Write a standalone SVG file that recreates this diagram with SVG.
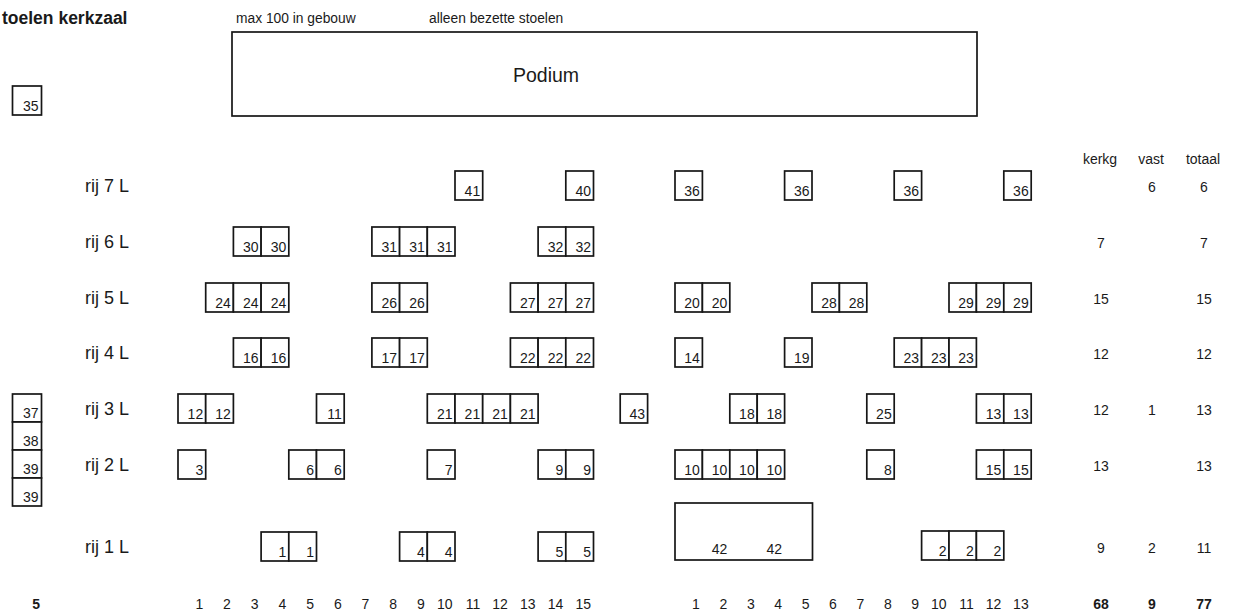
<svg xmlns="http://www.w3.org/2000/svg" width="1235" height="614" viewBox="0 0 1235 614">
<style>
text{font-family:"Liberation Sans",Arial,sans-serif;fill:#1a1a1a}
.c{fill:#fff;stroke:#161616;stroke-width:1.7}
.n{font-size:14px;text-anchor:end}
.l{font-size:18px}
.h{font-size:14px;text-anchor:middle}
.v{font-size:14px;text-anchor:middle}
.b{font-weight:bold}
.s{font-size:13.8px}
</style>
<rect width="1235" height="614" fill="#fff"/>
<g id="header">
<text x="2" y="24" font-size="17.5" class="b">toelen kerkzaal</text>
<text x="236" y="23" class="s">max 100 in gebouw</text>
<text x="429" y="23" class="s">alleen bezette stoelen</text>
</g>
<g id="podium">
<rect class="c" x="232" y="32" width="745" height="84"/>
<text x="546" y="82" font-size="19.5" text-anchor="middle">Podium</text>
</g>
<g id="connectors"/>
<g id="side-seats">
<rect class="c" x="12.5" y="86" width="29" height="29"/><text class="n" x="38.5" y="111">35</text>
<rect class="c" x="12.5" y="394" width="29" height="28"/><text class="n" x="38.5" y="418">37</text>
<rect class="c" x="12.5" y="422" width="29" height="28"/><text class="n" x="38.5" y="446">38</text>
<rect class="c" x="12.5" y="450" width="29" height="28"/><text class="n" x="38.5" y="474">39</text>
<rect class="c" x="12.5" y="478" width="29" height="28"/><text class="n" x="38.5" y="502">39</text>
</g>
<g id="row-labels">
<text class="l" x="85" y="192">rij 7 L</text>
<text class="l" x="85" y="248">rij 6 L</text>
<text class="l" x="85" y="304">rij 5 L</text>
<text class="l" x="85" y="359">rij 4 L</text>
<text class="l" x="85" y="415">rij 3 L</text>
<text class="l" x="85" y="471">rij 2 L</text>
<text class="l" x="85" y="553">rij 1 L</text>
</g>
<g id="row7">
<rect class="c" x="455" y="171" width="27.7" height="29"/><text class="n" x="480.2" y="196">41</text>
<rect class="c" x="565.8" y="171" width="27.7" height="29"/><text class="n" x="591" y="196">40</text>
<rect class="c" x="675" y="171" width="27.4" height="29"/><text class="n" x="699.9" y="196">36</text>
<rect class="c" x="784.6" y="171" width="27.4" height="29"/><text class="n" x="809.5" y="196">36</text>
<rect class="c" x="894.2" y="171" width="27.4" height="29"/><text class="n" x="919.1" y="196">36</text>
<rect class="c" x="1003.8" y="171" width="27.4" height="29"/><text class="n" x="1028.7" y="196">36</text>
</g>
<g id="row6">
<rect class="c" x="233.4" y="227" width="27.7" height="29"/><text class="n" x="258.6" y="252">30</text>
<rect class="c" x="261.1" y="227" width="27.7" height="29"/><text class="n" x="286.3" y="252">30</text>
<rect class="c" x="371.9" y="227" width="27.7" height="29"/><text class="n" x="397.1" y="252">31</text>
<rect class="c" x="399.6" y="227" width="27.7" height="29"/><text class="n" x="424.8" y="252">31</text>
<rect class="c" x="427.3" y="227" width="27.7" height="29"/><text class="n" x="452.5" y="252">31</text>
<rect class="c" x="538.1" y="227" width="27.7" height="29"/><text class="n" x="563.3" y="252">32</text>
<rect class="c" x="565.8" y="227" width="27.7" height="29"/><text class="n" x="591" y="252">32</text>
</g>
<g id="row5">
<rect class="c" x="205.7" y="283" width="27.7" height="29"/><text class="n" x="230.9" y="308">24</text>
<rect class="c" x="233.4" y="283" width="27.7" height="29"/><text class="n" x="258.6" y="308">24</text>
<rect class="c" x="261.1" y="283" width="27.7" height="29"/><text class="n" x="286.3" y="308">24</text>
<rect class="c" x="371.9" y="283" width="27.7" height="29"/><text class="n" x="397.1" y="308">26</text>
<rect class="c" x="399.6" y="283" width="27.7" height="29"/><text class="n" x="424.8" y="308">26</text>
<rect class="c" x="510.4" y="283" width="27.7" height="29"/><text class="n" x="535.6" y="308">27</text>
<rect class="c" x="538.1" y="283" width="27.7" height="29"/><text class="n" x="563.3" y="308">27</text>
<rect class="c" x="565.8" y="283" width="27.7" height="29"/><text class="n" x="591" y="308">27</text>
<rect class="c" x="675" y="283" width="27.4" height="29"/><text class="n" x="699.9" y="308">20</text>
<rect class="c" x="702.4" y="283" width="27.4" height="29"/><text class="n" x="727.3" y="308">20</text>
<rect class="c" x="812" y="283" width="27.4" height="29"/><text class="n" x="836.9" y="308">28</text>
<rect class="c" x="839.4" y="283" width="27.4" height="29"/><text class="n" x="864.3" y="308">28</text>
<rect class="c" x="949" y="283" width="27.4" height="29"/><text class="n" x="973.9" y="308">29</text>
<rect class="c" x="976.4" y="283" width="27.4" height="29"/><text class="n" x="1001.3" y="308">29</text>
<rect class="c" x="1003.8" y="283" width="27.4" height="29"/><text class="n" x="1028.7" y="308">29</text>
</g>
<g id="row4">
<rect class="c" x="233.4" y="338" width="27.7" height="29"/><text class="n" x="258.6" y="363">16</text>
<rect class="c" x="261.1" y="338" width="27.7" height="29"/><text class="n" x="286.3" y="363">16</text>
<rect class="c" x="371.9" y="338" width="27.7" height="29"/><text class="n" x="397.1" y="363">17</text>
<rect class="c" x="399.6" y="338" width="27.7" height="29"/><text class="n" x="424.8" y="363">17</text>
<rect class="c" x="510.4" y="338" width="27.7" height="29"/><text class="n" x="535.6" y="363">22</text>
<rect class="c" x="538.1" y="338" width="27.7" height="29"/><text class="n" x="563.3" y="363">22</text>
<rect class="c" x="565.8" y="338" width="27.7" height="29"/><text class="n" x="591" y="363">22</text>
<rect class="c" x="675" y="338" width="27.4" height="29"/><text class="n" x="699.9" y="363">14</text>
<rect class="c" x="784.6" y="338" width="27.4" height="29"/><text class="n" x="809.5" y="363">19</text>
<rect class="c" x="894.2" y="338" width="27.4" height="29"/><text class="n" x="919.1" y="363">23</text>
<rect class="c" x="921.6" y="338" width="27.4" height="29"/><text class="n" x="946.5" y="363">23</text>
<rect class="c" x="949" y="338" width="27.4" height="29"/><text class="n" x="973.9" y="363">23</text>
</g>
<g id="row3">
<rect class="c" x="178" y="394" width="27.7" height="29"/><text class="n" x="203.2" y="419">12</text>
<rect class="c" x="205.7" y="394" width="27.7" height="29"/><text class="n" x="230.9" y="419">12</text>
<rect class="c" x="316.5" y="394" width="27.7" height="29"/><text class="n" x="341.7" y="419">11</text>
<rect class="c" x="427.3" y="394" width="27.7" height="29"/><text class="n" x="452.5" y="419">21</text>
<rect class="c" x="455" y="394" width="27.7" height="29"/><text class="n" x="480.2" y="419">21</text>
<rect class="c" x="482.7" y="394" width="27.7" height="29"/><text class="n" x="507.9" y="419">21</text>
<rect class="c" x="510.4" y="394" width="27.7" height="29"/><text class="n" x="535.6" y="419">21</text>
<rect class="c" x="620.2" y="394" width="27.4" height="29"/><text class="n" x="645.1" y="419">43</text>
<rect class="c" x="729.8" y="394" width="27.4" height="29"/><text class="n" x="754.7" y="419">18</text>
<rect class="c" x="757.2" y="394" width="27.4" height="29"/><text class="n" x="782.1" y="419">18</text>
<rect class="c" x="866.8" y="394" width="27.4" height="29"/><text class="n" x="891.7" y="419">25</text>
<rect class="c" x="976.4" y="394" width="27.4" height="29"/><text class="n" x="1001.3" y="419">13</text>
<rect class="c" x="1003.8" y="394" width="27.4" height="29"/><text class="n" x="1028.7" y="419">13</text>
</g>
<g id="row2">
<rect class="c" x="178" y="450" width="27.7" height="29"/><text class="n" x="203.2" y="475">3</text>
<rect class="c" x="288.8" y="450" width="27.7" height="29"/><text class="n" x="314" y="475">6</text>
<rect class="c" x="316.5" y="450" width="27.7" height="29"/><text class="n" x="341.7" y="475">6</text>
<rect class="c" x="427.3" y="450" width="27.7" height="29"/><text class="n" x="452.5" y="475">7</text>
<rect class="c" x="538.1" y="450" width="27.7" height="29"/><text class="n" x="563.3" y="475">9</text>
<rect class="c" x="565.8" y="450" width="27.7" height="29"/><text class="n" x="591" y="475">9</text>
<rect class="c" x="675" y="450" width="27.4" height="29"/><text class="n" x="699.9" y="475">10</text>
<rect class="c" x="702.4" y="450" width="27.4" height="29"/><text class="n" x="727.3" y="475">10</text>
<rect class="c" x="729.8" y="450" width="27.4" height="29"/><text class="n" x="754.7" y="475">10</text>
<rect class="c" x="757.2" y="450" width="27.4" height="29"/><text class="n" x="782.1" y="475">10</text>
<rect class="c" x="866.8" y="450" width="27.4" height="29"/><text class="n" x="891.7" y="475">8</text>
<rect class="c" x="976.4" y="450" width="27.4" height="29"/><text class="n" x="1001.3" y="475">15</text>
<rect class="c" x="1003.8" y="450" width="27.4" height="29"/><text class="n" x="1028.7" y="475">15</text>
</g>
<g id="row1">
<rect class="c" x="261.1" y="532" width="27.7" height="29"/><text class="n" x="286.3" y="557">1</text>
<rect class="c" x="288.8" y="532" width="27.7" height="29"/><text class="n" x="314" y="557">1</text>
<rect class="c" x="399.6" y="532" width="27.7" height="29"/><text class="n" x="424.8" y="557">4</text>
<rect class="c" x="427.3" y="532" width="27.7" height="29"/><text class="n" x="452.5" y="557">4</text>
<rect class="c" x="538.1" y="532" width="27.7" height="29"/><text class="n" x="563.3" y="557">5</text>
<rect class="c" x="565.8" y="532" width="27.7" height="29"/><text class="n" x="591" y="557">5</text>
<rect class="c" x="921.6" y="531" width="27.4" height="29"/><text class="n" x="946.5" y="556">2</text>
<rect class="c" x="949" y="531" width="27.4" height="29"/><text class="n" x="973.9" y="556">2</text>
<rect class="c" x="976.4" y="531" width="27.4" height="29"/><text class="n" x="1001.3" y="556">2</text>
</g>
<g id="block42">
<rect class="c" x="675" y="503" width="137.5" height="57"/>
<text class="n" x="727.3" y="554">42</text>
<text class="n" x="782.1" y="554">42</text>
</g>
<g id="totals">
<text class="h" x="1100" y="164">kerkg</text>
<text class="h" x="1151" y="164">vast</text>
<text class="h" x="1203" y="164">totaal</text>
<text class="v" x="1152" y="192">6</text><text class="v" x="1204" y="192">6</text>
<text class="v" x="1101" y="248">7</text><text class="v" x="1204" y="248">7</text>
<text class="v" x="1101" y="304">15</text><text class="v" x="1204" y="304">15</text>
<text class="v" x="1101" y="359">12</text><text class="v" x="1204" y="359">12</text>
<text class="v" x="1101" y="415">12</text><text class="v" x="1152" y="415">1</text><text class="v" x="1204" y="415">13</text>
<text class="v" x="1101" y="471">13</text><text class="v" x="1204" y="471">13</text>
<text class="v" x="1101" y="553">9</text><text class="v" x="1152" y="553">2</text><text class="v" x="1204" y="553">11</text>
<text class="v b" x="1101" y="609">68</text><text class="v b" x="1152" y="609">9</text><text class="v b" x="1204" y="609">77</text>
</g>
<g id="seat-numbers">
<text class="n b" x="40" y="609">5</text>
<text class="n" x="203.2" y="609">1</text>
<text class="n" x="230.9" y="609">2</text>
<text class="n" x="258.6" y="609">3</text>
<text class="n" x="286.3" y="609">4</text>
<text class="n" x="314" y="609">5</text>
<text class="n" x="341.7" y="609">6</text>
<text class="n" x="369.4" y="609">7</text>
<text class="n" x="397.1" y="609">8</text>
<text class="n" x="424.8" y="609">9</text>
<text class="n" x="452.5" y="609">10</text>
<text class="n" x="480.2" y="609">11</text>
<text class="n" x="507.9" y="609">12</text>
<text class="n" x="535.6" y="609">13</text>
<text class="n" x="563.3" y="609">14</text>
<text class="n" x="591" y="609">15</text>
<text class="n" x="699.9" y="609">1</text>
<text class="n" x="727.3" y="609">2</text>
<text class="n" x="754.7" y="609">3</text>
<text class="n" x="782.1" y="609">4</text>
<text class="n" x="809.5" y="609">5</text>
<text class="n" x="836.9" y="609">6</text>
<text class="n" x="864.3" y="609">7</text>
<text class="n" x="891.7" y="609">8</text>
<text class="n" x="919.1" y="609">9</text>
<text class="n" x="946.5" y="609">10</text>
<text class="n" x="973.9" y="609">11</text>
<text class="n" x="1001.3" y="609">12</text>
<text class="n" x="1028.7" y="609">13</text>
</g>
</svg>
